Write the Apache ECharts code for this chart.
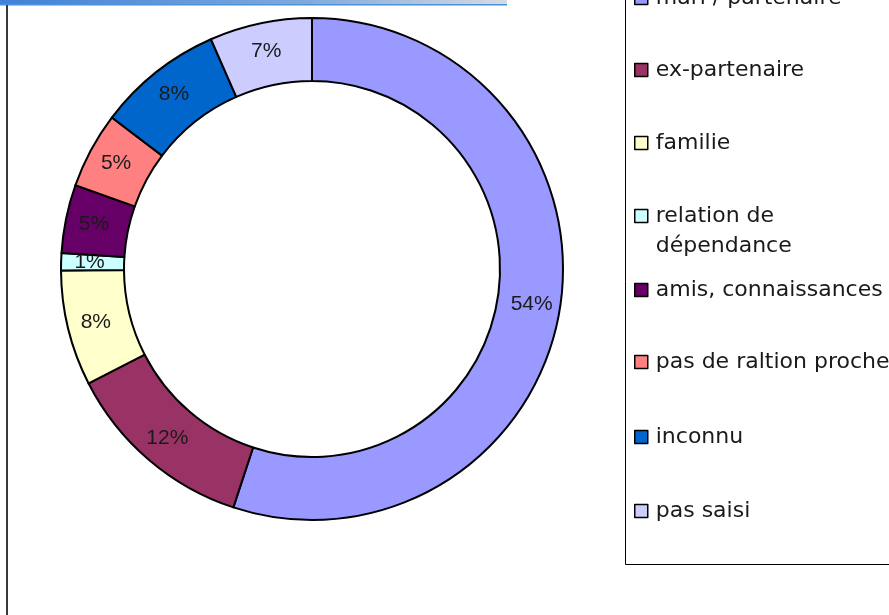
<!DOCTYPE html>
<html>
<head>
<meta charset="utf-8">
<script src="https://cdn.jsdelivr.net/npm/echarts@6/dist/echarts.min.js"></script>
<style>
html,body{margin:0;padding:0;background:#fff;}
#chart{width:889px;height:615px;}
</style>
</head>
<body>
<div id="chart"></div>
<script>
const categories = ["mari / partenaire", "ex-partenaire", "familie", "relation de\ndépendance", "amis, connaissances", "pas de raltion proche", "inconnu", "pas saisi"];
const values = [55.1, 12.4, 7.45, 1.1, 4.4, 4.9, 8.1, 6.6];
const percentLabels = ["54%", "12%", "8%", "1%", "5%", "5%", "8%", "7%"];
const colors = ["#9999FF", "#993366", "#FFFFCC", "#CCFFFF", "#660066", "#FF8080", "#0066CC", "#CCCCFF"];

const FONT = "DejaVu Sans";
const LABEL_FONT = "Liberation Sans";
const legendCenters = [-2, 70, 143, 216, 290, 362, 437, 511];
const LH = 30;

const legends = categories.map((name, i) => {
  const multi = name.indexOf("\n") >= 0;
  return {
    data: [name],
    orient: "vertical",
    left: 634,
    top: legendCenters[i] - (multi ? LH * 1.5 : LH / 2),
    icon: "rect",
    itemWidth: 13,
    itemHeight: 13,
    itemGap: 0,
    padding: 0,
    selectedMode: false,
    formatter: multi ? (n => "\n" + n) : (n => n),
    itemStyle: { borderColor: "#000", borderWidth: 1.5 },
    textStyle: {
      fontFamily: FONT,
      fontSize: 22,
      color: "#1a1a1a",
      lineHeight: LH,
      padding: [0, 0, 0, 3]
    }
  };
});

const chart = echarts.init(document.getElementById("chart"), null, { renderer: "canvas" });
chart.setOption({
  animation: false,
  backgroundColor: "#ffffff",
  color: colors,
  legend: legends,
  graphic: [
    { type: "rect", shape: { x: 0, y: 0, width: 507, height: 4 },
      style: { fill: new echarts.graphic.LinearGradient(0, 0, 1, 0, [
        { offset: 0, color: "#3f82d8" }, { offset: 0.6, color: "#7fa9dc" }, { offset: 1, color: "#d6dbe2" }]) } },
    { type: "rect", shape: { x: 0, y: 4, width: 507, height: 1.5 }, style: { fill: "#4a8fd8" } },
    { type: "rect", shape: { x: 6, y: 5, width: 2, height: 615 }, style: { fill: "#3a3a3a" } },
    { type: "rect", shape: { x: 625.5, y: -20, width: 300, height: 584.5 },
      style: { fill: "none", stroke: "#000", lineWidth: 1 } }
  ],
  series: [{
    type: "pie",
    center: [312, 269],
    radius: [188, 251],
    startAngle: 90,
    clockwise: true,
    avoidLabelOverlap: false,
    minAngle: 0,
    itemStyle: { borderColor: "#000", borderWidth: 2 },
    label: {
      show: true,
      position: "inside",
      fontFamily: LABEL_FONT,
      fontSize: 21,
      color: "#1a1a1a",
      formatter: p => percentLabels[p.dataIndex]
    },
    labelLine: { show: false },
    emphasis: { disabled: true },
    data: categories.map((name, i) => ({ name: name, value: values[i] }))
  }]
});
</script>
</body>
</html>
